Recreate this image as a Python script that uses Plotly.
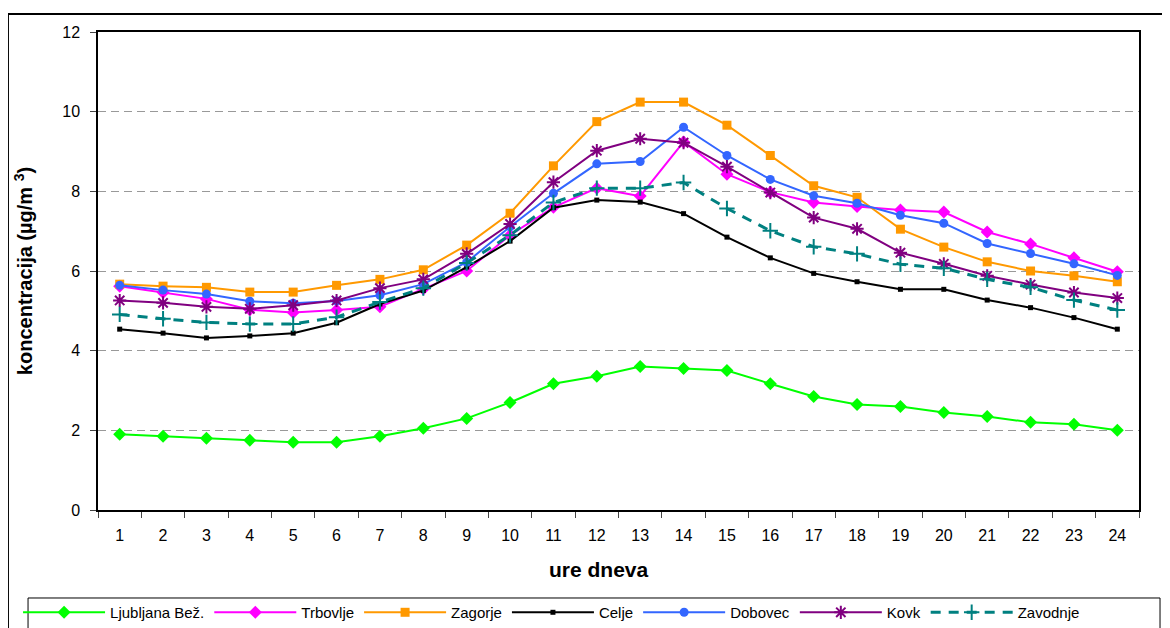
import plotly.graph_objects as go

hours = [str(h) for h in range(1, 25)]

ljubljana = [1.9, 1.85, 1.8, 1.75, 1.7, 1.7, 1.85, 2.05, 2.3, 2.7, 3.17, 3.36,
             3.6, 3.55, 3.5, 3.17, 2.85, 2.65, 2.6, 2.45, 2.35, 2.2, 2.15, 2.0]
trbovlje = [5.62, 5.46, 5.3, 5.03, 4.96, 5.02, 5.1, 5.55, 6.0, 6.9, 7.6, 8.08,
            7.88, 9.24, 8.43, 7.98, 7.72, 7.62, 7.53, 7.48, 6.98, 6.68, 6.33, 5.98]
zagorje = [5.67, 5.62, 5.59, 5.47, 5.47, 5.64, 5.79, 6.03, 6.65, 7.45, 8.64, 9.75,
           10.24, 10.24, 9.66, 8.9, 8.14, 7.85, 7.05, 6.6, 6.23, 6.0, 5.88, 5.73]
celje = [4.54, 4.44, 4.32, 4.37, 4.44, 4.7, 5.17, 5.51, 6.1, 6.75, 7.59, 7.78,
         7.73, 7.44, 6.85, 6.33, 5.94, 5.73, 5.54, 5.54, 5.27, 5.08, 4.83, 4.54]
dobovec = [5.64, 5.52, 5.42, 5.24, 5.19, 5.25, 5.39, 5.67, 6.22, 7.11, 7.95, 8.69,
           8.75, 9.61, 8.9, 8.3, 7.89, 7.7, 7.4, 7.2, 6.69, 6.44, 6.18, 5.89]
kovk = [5.26, 5.2, 5.1, 5.05, 5.14, 5.26, 5.57, 5.79, 6.43, 7.18, 8.23, 9.02,
        9.32, 9.22, 8.62, 7.97, 7.34, 7.06, 6.46, 6.18, 5.88, 5.66, 5.46, 5.32]
zavodnje = [4.91, 4.8, 4.71, 4.67, 4.67, 4.84, 5.22, 5.57, 6.2, 6.9, 7.72, 8.08,
            8.08, 8.22, 7.57, 7.01, 6.61, 6.43, 6.17, 6.07, 5.79, 5.59, 5.27, 5.02]

FONT = 'Liberation Sans, Arial, sans-serif'

series = [
    ('Ljubljana Bež.', ljubljana, '#00FF00', dict(symbol='diamond', size=10), 'solid', 2),
    ('Trbovlje', trbovlje, '#FF00FF', dict(symbol='diamond', size=10), 'solid', 2),
    ('Zagorje', zagorje, '#FF9900', dict(symbol='square', size=9), 'solid', 2),
    ('Celje', celje, '#000000', dict(symbol='square', size=5), 'solid', 2),
    ('Dobovec', dobovec, '#3366FF', dict(symbol='circle', size=9), 'solid', 2),
    ('Kovk', kovk, '#800080', dict(symbol='asterisk-open', size=11,
                                   line=dict(color='#800080', width=2)), 'solid', 2),
    ('Zavodnje', zavodnje, '#008080', dict(symbol='cross-thin-open', size=11,
                                           line=dict(color='#008080', width=2)), '10px,8px', 3),
]

fig = go.Figure()
for name, vals, color, marker, dash, width in series:
    fig.add_trace(go.Scatter(
        x=hours, y=vals, name=name, mode='lines+markers',
        line=dict(color=color, width=width, dash=dash),
        marker=dict(color=color, **marker),
    ))

# page body adds an 8px offset, so the figure is a bit smaller than the window
fig.update_layout(
    width=1162, height=620,
    margin=dict(l=90, r=31, t=24, b=118, autoexpand=False),
    paper_bgcolor='white', plot_bgcolor='white',
    font=dict(family=FONT, size=16, color='black'),
    xaxis=dict(
        type='category', range=[-0.5, 23.5], tickson='boundaries',
        ticks='outside', ticklen=6,
        showline=True, linecolor='black', linewidth=1.5, mirror=True,
        showgrid=False, ticklabelstandoff=10, tickfont=dict(size=16),
    ),
    yaxis=dict(
        range=[0, 12], dtick=2, ticks='outside', ticklen=6,
        showline=True, linecolor='black', linewidth=1.5, mirror=True,
        showgrid=True, gridcolor='#999999', griddash='8px,5px', gridwidth=1,
        zeroline=False, ticklabelstandoff=7, tickfont=dict(size=16),
        title=dict(text='<b>koncentracija (µg/m <sup>3</sup>)</b>', font=dict(size=20), standoff=24),
    ),
    legend=dict(
        orientation='h', x=-0.0768, xanchor='left', y=-0.18, yanchor='top',
        borderwidth=0, font=dict(size=15), bgcolor='rgba(0,0,0,0)',
        itemwidth=82, tracegroupgap=0,
    ),
    annotations=[dict(text='<b>ure dneva</b>', xref='paper', yref='paper',
                      x=0.481, y=-0.1255, xanchor='center', yanchor='middle',
                      showarrow=False, font=dict(size=21))],
    shapes=[
        dict(type='rect', xref='paper', yref='paper',
             x0=-0.0865, x1=1.0279, y0=-0.3, y1=1.0377,
             line=dict(color='black', width=2), layer='below'),
        dict(type='rect', xref='paper', yref='paper',
             x0=-0.0672, x1=1.0202, y0=-0.3, y1=-0.1841,
             line=dict(color='black', width=1), layer='below'),
    ],
)

fig.write_html("out.html")
